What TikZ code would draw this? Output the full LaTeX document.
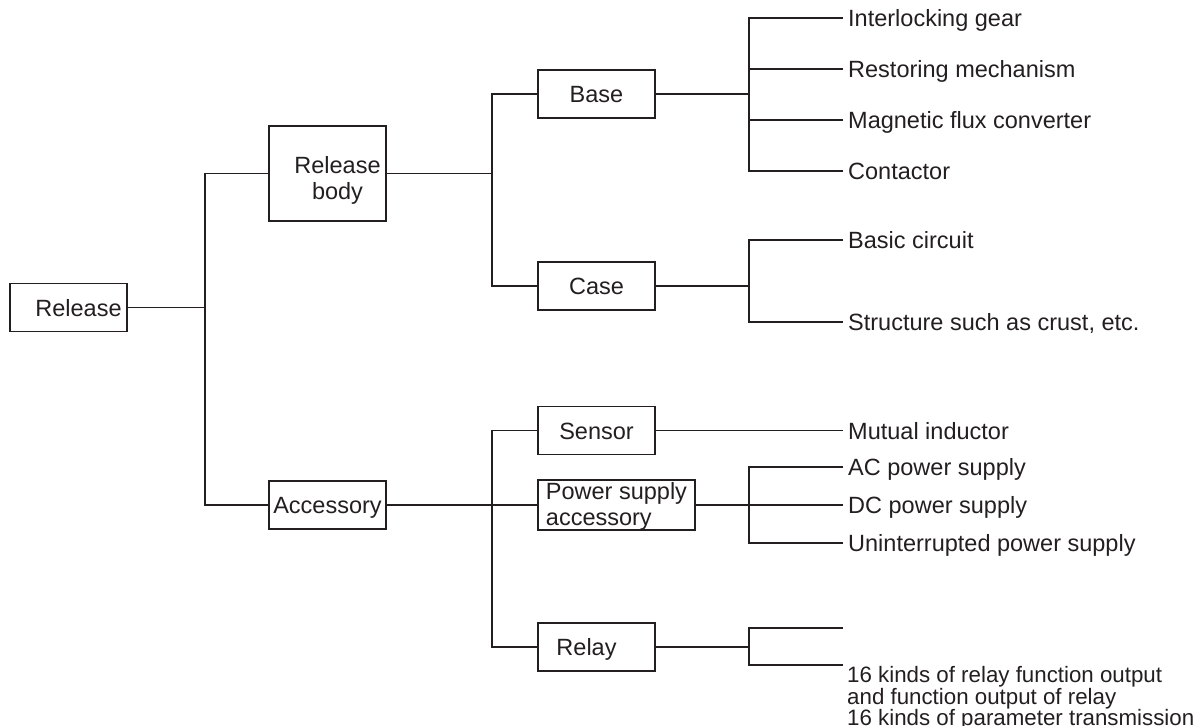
\documentclass[tikz,border=0pt]{standalone}
\usepackage{fontspec}
\setmainfont{Liberation Sans}
\usetikzlibrary{positioning}
\definecolor{ink}{HTML}{231F20}

\begin{document}
\begin{tikzpicture}[x=1pt, y=-1pt, every node/.style={text=ink, font=\fontsize{23.5pt}{26pt}\selectfont},
	box/.style={draw=ink, line width=1.2pt, minimum width=117pt, minimum height=48pt, inner sep=0pt, text height=17pt, text depth=0pt},
	leaf/.style={inner sep=0pt, text height=17pt, text depth=0pt},
	wire/.style={draw=ink, line width=1.2pt}]
				\useasboundingbox (0,0) rectangle (1198,725);
				
				\node[box] (release) at (68.5,307.5){\hspace*{20pt}Release};
				\node[box, minimum height=95pt, align=center, text height={}, text depth={}] (body) at (327.5,173.5){\rule{0pt}{31pt}\hspace*{20pt}Release\\\hspace*{20pt}body};
				\node[box] (acc) at (327.5,505){Accessory};
				
				\node[box] (base) at (596.5,94){Base};
				\node[box] (case) at (596.5,286){Case};
				\node[box] (sensor) at (596.5,430.5){Sensor};
				\node[box, minimum width=157pt, align=left, text height={}, text depth={}] (power) at (616.5,505){\rule{0pt}{19pt}Power supply\\accessory};
				\node[box] (relay) at (596.5,647){Relay\hspace*{20pt}};
				
				\coordinate (j1) at (205,307.5);
				\coordinate (j2) at (492,173.5);
				\coordinate (j3) at (492,505);
				\coordinate (j4) at (749,94);
				\coordinate (j5) at (749,286);
				\coordinate (j6) at (749,505);
				\coordinate (j7) at (749,647);
				
				\coordinate (e1) at (843,18);
				\coordinate (e2) at (843,69);
				\coordinate (e3) at (843,120);
				\coordinate (e4) at (843,171);
				\coordinate (c1) at (843,240);
				\coordinate (c2) at (843,322);
				\coordinate (s1) at (843,430.5);
				\coordinate (p1) at (843,467);
				\coordinate (p2) at (843,505);
				\coordinate (p3) at (843,543);
				\coordinate (r1) at (843,628);
				\coordinate (r2) at (843,665);
				
				\node[leaf, right=5pt of e1] (gear){Interlocking gear};
				\node[leaf, right=5pt of e2] (restore){Restoring mechanism};
				\node[leaf, right=5pt of e3] (flux){Magnetic flux converter};
				\node[leaf, right=5pt of e4] (contact){Contactor};
				\node[leaf, right=5pt of c1] (circuit){Basic circuit};
				\node[leaf, right=5pt of c2] (crust){Structure such as crust, etc.};
				\node[leaf, right=5pt of s1] (mutual){Mutual inductor};
				\node[leaf, right=5pt of p1] (ac){AC power supply};
				\node[leaf, right=5pt of p2] (dc){DC power supply};
				\node[leaf, right=5pt of p3] (ups){Uninterrupted power supply};
				\node[inner sep=0pt, align=left, font=\fontsize{22.3pt}{19.5pt}\selectfont, below right=1pt and 4pt of r2] (relout){16 kinds of relay function output\\and function output of relay\\16 kinds of parameter transmission};
				
				% first level
				\path[wire] (release) -- (j1);
				\path[wire] (body.west) -| (j1) |- (acc.west);
				
				% second level
				\path[wire] (body) -- (j2);
				\path[wire] (base.west) -| (j2) |- (case.west);
				\path[wire] (acc) -- (j3);
				\path[wire] (sensor.west) -| (j3) |- (relay.west);
				\path[wire] (j3) -- (power);
				
				% leaves
				\path[wire] (base) -- (j4);
				\path[wire] (e1) -| (j4) |- (e4);
				\path[wire] (e2) -- (e2 -| j4);
				\path[wire] (e3) -- (e3 -| j4);
				\path[wire] (case) -- (j5);
				\path[wire] (c1) -| (j5) |- (c2);
				\path[wire] (sensor) -- (s1);
				\path[wire] (power) -- (p2);
				\path[wire] (p1) -| (j6) |- (p3);
				\path[wire] (relay) -- (j7);
				\path[wire] (r1) -| (j7) |- (r2);
\end{tikzpicture}
\end{document}
